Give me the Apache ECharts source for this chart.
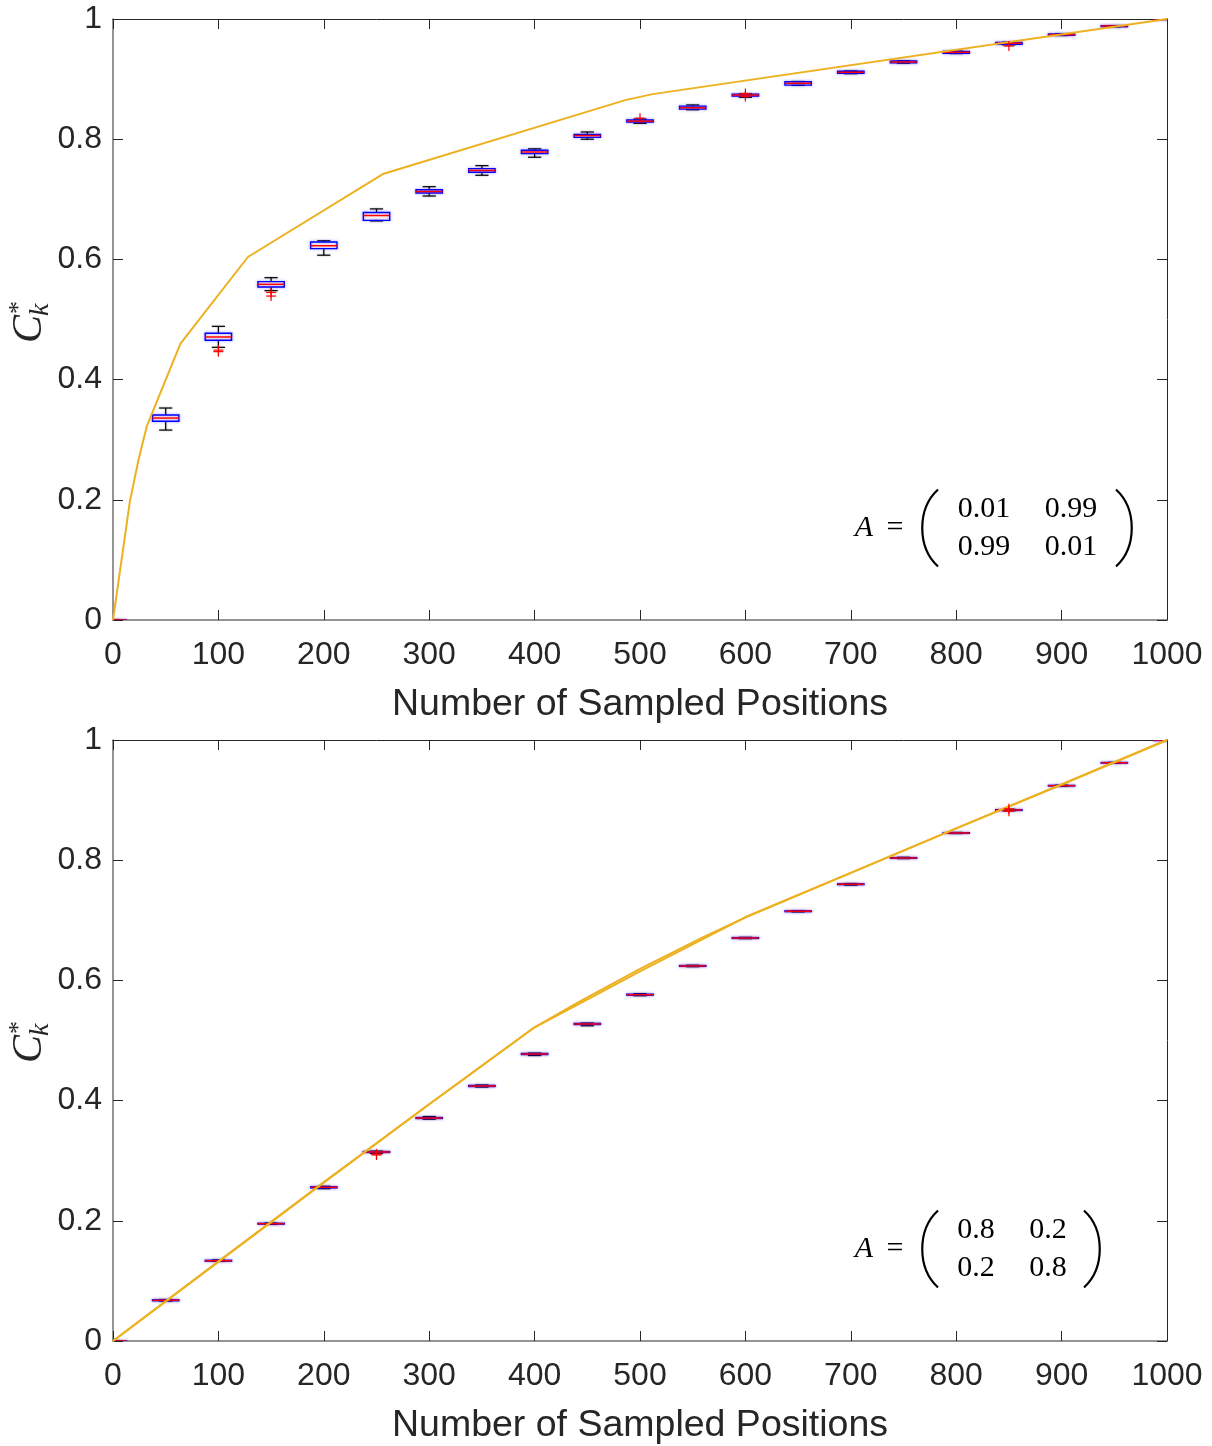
<!DOCTYPE html>
<html>
<head>
<meta charset="utf-8">
<title>Sampled positions</title>
<script src="https://cdn.jsdelivr.net/npm/echarts@6/dist/echarts.min.js"></script>
<style>
  html, body { margin: 0; padding: 0; background: #ffffff; }
  #chart { width: 1212px; height: 1446px; }
</style>
</head>
<body>
<div id="chart"></div>
<script>
// ---- data -------------------------------------------------------------
const positions = [0, 50, 100, 150, 200, 250, 300, 350, 400, 450, 500,
                   550, 600, 650, 700, 750, 800, 850, 900, 950, 1000];

// upper panel, A = [0.01 0.99; 0.99 0.01]
const topLower  = [0, 0.316, 0.4537, 0.548, 0.607, 0.664, 0.7055, 0.740, 0.770, 0.800, 0.8264,
                   0.849, 0.8697, 0.8895, 0.909, 0.9265, 0.9425, 0.957, 0.9725, 0.987, 1];
const topQ1     = [0, 0.3306, 0.4654, 0.554, 0.618, 0.665, 0.7105, 0.745, 0.776, 0.803, 0.8286,
                   0.850, 0.872, 0.890, 0.9097, 0.927, 0.943, 0.958, 0.973, 0.9872, 1];
const topMedian = [0, 0.336, 0.4709, 0.5585, 0.6228, 0.673, 0.713, 0.748, 0.7787, 0.806, 0.830,
                   0.8524, 0.8735, 0.893, 0.9113, 0.9285, 0.9446, 0.9596, 0.974, 0.9884, 1];
const topQ3     = [0, 0.341, 0.477, 0.563, 0.629, 0.678, 0.716, 0.751, 0.7815, 0.808, 0.832,
                   0.855, 0.875, 0.8957, 0.913, 0.930, 0.946, 0.961, 0.975, 0.9889, 1];
const topUpper  = [0, 0.3527, 0.4886, 0.5696, 0.631, 0.684, 0.721, 0.756, 0.784, 0.812, 0.8336,
                   0.857, 0.8755, 0.896, 0.9135, 0.9305, 0.9465, 0.9615, 0.9755, 0.989, 1];
const topOutlierX = [100, 100, 150, 150, 500, 600, 600, 850];
const topOutlierY = [0.4465, 0.449, 0.539, 0.545, 0.835, 0.876, 0.871, 0.955];
const topBoundX = [0, 16, 24, 32, 64, 128, 256, 486, 512, 1000];
const topBoundY = [0, 0.197, 0.265, 0.322, 0.46, 0.604, 0.742, 0.865, 0.875, 1];

// lower panel, A = [0.8 0.2; 0.2 0.8]
const botLower  = [0, 0.0665, 0.1325, 0.194, 0.2535, 0.312, 0.369, 0.4225, 0.475, 0.5245, 0.5745,
                   0.6228, 0.6695, 0.714, 0.7585, 0.8027, 0.8444, 0.8822, 0.9232, 0.9618, 1];
const botQ1     = [0, 0.0670, 0.1330, 0.1946, 0.2548, 0.3138, 0.3703, 0.4235, 0.4767, 0.5267, 0.5755,
                   0.6234, 0.6699, 0.7145, 0.7594, 0.8032, 0.8448, 0.8829, 0.9236, 0.962, 1];
const botMedian = [0, 0.0677, 0.1336, 0.1952, 0.2557, 0.3145, 0.371, 0.4243, 0.4775, 0.5275, 0.5762,
                   0.624, 0.6705, 0.715, 0.760, 0.8037, 0.8453, 0.8835, 0.924, 0.9622, 1];
const botQ3     = [0, 0.0685, 0.1342, 0.1958, 0.2566, 0.3152, 0.3718, 0.4252, 0.4784, 0.5284, 0.577,
                   0.6247, 0.6712, 0.7156, 0.7606, 0.8043, 0.8458, 0.8841, 0.9244, 0.9625, 1];
const botUpper  = [0, 0.069, 0.1348, 0.1962, 0.2575, 0.316, 0.3735, 0.426, 0.479, 0.529, 0.578,
                   0.6252, 0.6716, 0.716, 0.7612, 0.8048, 0.8462, 0.8847, 0.9248, 0.9627, 1];
const botOutlierX = [250, 250, 850, 850];
const botOutlierY = [0.3095, 0.311, 0.8815, 0.8855];
const botBoundX  = [0, 100, 200, 300, 400, 440, 500, 560, 600, 700, 800, 900, 1000];
const botBoundY  = [0, 0.132, 0.264, 0.394, 0.522, 0.562, 0.619, 0.672, 0.705, 0.779, 0.853, 0.926, 1];
const botBound2Y = [0, 0.132, 0.264, 0.394, 0.522, 0.559, 0.615, 0.669, 0.705, 0.779, 0.853, 0.926, 1];

const xTitle = 'Number of Sampled Positions';
const matrixTop = [['0.01', '0.99'], ['0.99', '0.01']];
const matrixBot = [['0.8', '0.2'], ['0.2', '0.8']];

// ---- styling ----------------------------------------------------------
const SANS = '"Liberation Sans", Arial, Helvetica, sans-serif';
const SERIF = '"Liberation Serif", "Times New Roman", serif';
const INK = '#262626';
const BOUND_COLOR = '#EDB120';
const BOX_WIDTH = 25;   // in x-data units

const grids = [
  { left: 113, top: 19,  width: 1054, height: 601 },
  { left: 113, top: 740, width: 1054, height: 601 }
];

function zip(xs, ys) { return xs.map((x, i) => [x, ys[i]]); }
function boxRows(lo, q1, md, q3, hi) {
  return positions.map((p, i) => [p, lo[i], q1[i], md[i], q3[i], hi[i]]);
}

function renderBox(params, api) {
  const x = api.value(0);
  const lo = api.coord([x, api.value(1)]);
  const q1 = api.coord([x, api.value(2)]);
  const md = api.coord([x, api.value(3)]);
  const q3 = api.coord([x, api.value(4)]);
  const hi = api.coord([x, api.value(5)]);
  const w = api.size([BOX_WIDTH, 0])[0];
  const cx = md[0];
  const cap = w / 2;
  const whisk = { stroke: '#000000', lineWidth: 1.2, shadowBlur: 2, shadowColor: 'rgba(0,0,0,0.35)' };
  return {
    type: 'group',
    children: [
      { type: 'line', shape: { x1: cx, y1: q3[1], x2: cx, y2: hi[1] }, style: whisk },
      { type: 'line', shape: { x1: cx, y1: q1[1], x2: cx, y2: lo[1] }, style: whisk },
      { type: 'line', shape: { x1: cx - cap / 2, y1: hi[1], x2: cx + cap / 2, y2: hi[1] }, style: whisk },
      { type: 'line', shape: { x1: cx - cap / 2, y1: lo[1], x2: cx + cap / 2, y2: lo[1] }, style: whisk },
      { type: 'rect', shape: { x: cx - w / 2, y: q3[1], width: w, height: Math.max(q1[1] - q3[1], 0.5) },
        style: { fill: 'rgba(255,255,255,0)', stroke: '#0000ff', lineWidth: 1.4,
                 shadowBlur: 3, shadowColor: 'rgba(40,40,255,0.55)' } },
      { type: 'line', shape: { x1: cx - w / 2, y1: md[1], x2: cx + w / 2, y2: md[1] },
        style: { stroke: '#ff0000', lineWidth: 1.4, shadowBlur: 2, shadowColor: 'rgba(255,0,0,0.4)' } }
    ]
  };
}

function renderPlus(params, api) {
  const c = api.coord([api.value(0), api.value(1)]);
  const s = 5;
  const st = { stroke: '#ff0000', lineWidth: 1.2 };
  return {
    type: 'group',
    children: [
      { type: 'line', shape: { x1: c[0] - s, y1: c[1], x2: c[0] + s, y2: c[1] }, style: st },
      { type: 'line', shape: { x1: c[0], y1: c[1] - s, x2: c[0], y2: c[1] + s }, style: st }
    ]
  };
}

function axesFor(g) {
  const xa = [
    { gridIndex: g, type: 'value', position: 'bottom', min: 0, max: 1000, interval: 100,
      axisLine: { show: true, onZero: false, lineStyle: { color: '#707070', width: 1.5 } },
      axisTick: { show: true, inside: true, length: 10, lineStyle: { color: INK, width: 1 } },
      axisLabel: { show: true, fontSize: 32, fontFamily: SANS, color: INK, margin: 19,
                   showMinLabel: true, showMaxLabel: true, formatter: v => String(v) },
      splitLine: { show: false },
      name: xTitle, nameLocation: 'middle', nameGap: 66,
      nameTextStyle: { fontSize: 37.5, fontFamily: SANS, color: INK } },
    { gridIndex: g, type: 'value', position: 'top', min: 0, max: 1000, interval: 100,
      axisLine: { show: true, onZero: false, lineStyle: { color: INK, width: 1 } },
      axisTick: { show: true, inside: true, length: 10, lineStyle: { color: INK, width: 1 } },
      axisLabel: { show: false }, splitLine: { show: false } }
  ];
  const ya = [
    { gridIndex: g, type: 'value', position: 'left', min: 0, max: 1, interval: 0.2,
      axisLine: { show: true, onZero: false, lineStyle: { color: '#707070', width: 1.5 } },
      axisTick: { show: true, inside: true, length: 10, lineStyle: { color: INK, width: 1 } },
      axisLabel: { show: true, fontSize: 32, fontFamily: SANS, color: INK, margin: 11,
                   showMinLabel: true, showMaxLabel: true },
      splitLine: { show: false } },
    { gridIndex: g, type: 'value', position: 'right', min: 0, max: 1, interval: 0.2,
      axisLine: { show: true, onZero: false, lineStyle: { color: INK, width: 1 } },
      axisTick: { show: true, inside: true, length: 10, lineStyle: { color: INK, width: 1 } },
      axisLabel: { show: false }, splitLine: { show: false } }
  ];
  return { xa, ya };
}

const a0 = axesFor(0), a1 = axesFor(1);

function panelSeries(g, boxes, outX, outY, bounds) {
  const xi = g * 2, yi = g * 2;
  const list = [
    { type: 'custom', xAxisIndex: xi, yAxisIndex: yi, clip: true, z: 3,
      renderItem: renderBox, encode: { x: 0, y: [1, 2, 3, 4, 5] }, data: boxes },
    { type: 'custom', xAxisIndex: xi, yAxisIndex: yi, clip: true, z: 6,
      renderItem: renderPlus, encode: { x: 0, y: 1 }, data: zip(outX, outY) }
  ];
  bounds.forEach(b => list.push({
    type: 'line', xAxisIndex: xi, yAxisIndex: yi, data: b, showSymbol: false, symbol: 'none',
    z: 4, lineStyle: { color: BOUND_COLOR, width: 2 }, clip: true
  }));
  return list;
}

// ---- annotations: y label C*_k and the transition matrix ---------------
function yLabel(cx, bottomY) {
  return {
    type: 'group', x: cx, y: bottomY, rotation: Math.PI / 2,
    children: [
      { type: 'text', x: 0, y: 0,
        style: { text: 'C', font: 'italic 42px ' + SERIF, fill: INK,
                 align: 'left', verticalAlign: 'middle', textAlign: 'left', textVerticalAlign: 'middle' } },
      { type: 'text', x: 29, y: -11,
        style: { text: '*', font: '26px ' + SERIF, fill: INK,
                 align: 'left', verticalAlign: 'middle', textAlign: 'left', textVerticalAlign: 'middle' } },
      { type: 'text', x: 27, y: 11,
        style: { text: 'k', font: 'italic 28px ' + SERIF, fill: INK,
                 align: 'left', verticalAlign: 'middle', textAlign: 'left', textVerticalAlign: 'middle' } }
    ]
  };
}

function matrixNote(cy, colX, rightParenX, m) {
  const t = (text, x, y, italic) => ({
    type: 'text', x, y,
    style: { text, font: (italic ? 'italic ' : '') + '30px ' + SERIF, fill: '#000',
             align: 'center', verticalAlign: 'middle', textAlign: 'center', textVerticalAlign: 'middle' }
  });
  const h = 38.5;
  const paren = (x, dir) => ({
    type: 'bezierCurve',
    shape: { x1: x, y1: cy - h, x2: x, y2: cy + h,
             cpx1: x - dir * 21, cpy1: cy - h * 0.5, cpx2: x - dir * 21, cpy2: cy + h * 0.5 },
    style: { stroke: '#000', lineWidth: 2.2, fill: null }
  });
  return {
    type: 'group',
    children: [
      t('A', 864, cy, true),
      t('=', 895, cy, false),
      paren(938, 1),
      t(m[0][0], colX[0], cy - 19), t(m[0][1], colX[1], cy - 19),
      t(m[1][0], colX[0], cy + 19), t(m[1][1], colX[1], cy + 19),
      paren(rightParenX, -1)
    ]
  };
}

const option = {
  animation: false,
  backgroundColor: '#ffffff',
  grid: grids,
  xAxis: a0.xa.concat(a1.xa),
  yAxis: a0.ya.concat(a1.ya),
  series: [].concat(
    panelSeries(0, boxRows(topLower, topQ1, topMedian, topQ3, topUpper),
                topOutlierX, topOutlierY, [zip(topBoundX, topBoundY)]),
    panelSeries(1, boxRows(botLower, botQ1, botMedian, botQ3, botUpper),
                botOutlierX, botOutlierY, [zip(botBoundX, botBoundY), zip(botBoundX, botBound2Y)])
  ),
  graphic: [
    yLabel(30, 343),
    yLabel(30, 1063),
    matrixNote(528, [984, 1071], 1116, matrixTop),
    matrixNote(1249, [976, 1048], 1084, matrixBot)
  ]
};

const chart = echarts.init(document.getElementById('chart'), null, { renderer: 'canvas' });
chart.setOption(option);
</script>
</body>
</html>
